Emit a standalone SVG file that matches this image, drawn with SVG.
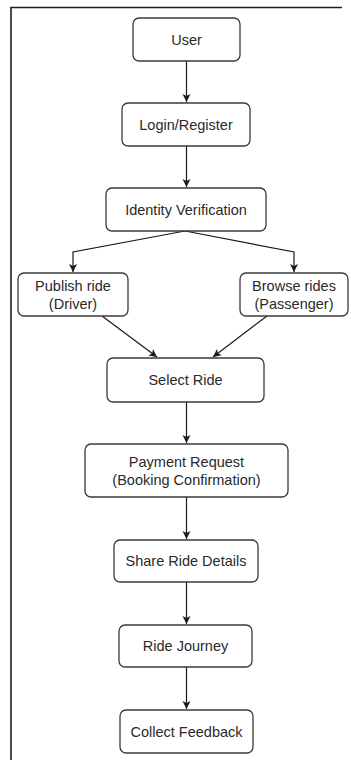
<svg xmlns="http://www.w3.org/2000/svg" width="351" height="760" viewBox="0 0 351 760">
<style>
.box{fill:#fff;stroke:#3a3a3a;stroke-width:1.3}
.t{font-family:"Liberation Sans",Arial,sans-serif;font-size:14.5px;fill:#2a2a2a;text-anchor:middle}
.c{fill:none;stroke:#1a1a1a;stroke-width:1.2}
</style>
<defs>
<marker id="ah" markerWidth="10" markerHeight="10" refX="9" refY="5" orient="auto" markerUnits="userSpaceOnUse">
<path d="M1,1 L9,5 L1,9 L3,5 Z" fill="#1a1a1a"/>
</marker>
</defs>
<rect width="351" height="760" fill="#fff"/>
<path d="M11,760 L11,7.5 L342,7.5" fill="none" stroke="#1e1e1e" stroke-width="1.6"/>
<g id="connectors">
<path class="c" d="M186.5,61 L186.5,102" marker-end="url(#ah)"/>
<path class="c" d="M186.5,146 L186.5,187" marker-end="url(#ah)"/>
<path class="c" d="M185,231 L73,252 L73,272" marker-end="url(#ah)"/>
<path class="c" d="M185,231 L294,252 L294,272" marker-end="url(#ah)"/>
<path class="c" d="M102,316 L157,357" marker-end="url(#ah)"/>
<path class="c" d="M267,316 L213,357" marker-end="url(#ah)"/>
<path class="c" d="M186.5,402 L186.5,443" marker-end="url(#ah)"/>
<path class="c" d="M186.5,497 L186.5,539" marker-end="url(#ah)"/>
<path class="c" d="M186.5,582 L186.5,624" marker-end="url(#ah)"/>
<path class="c" d="M186.5,667 L186.5,709" marker-end="url(#ah)"/>
</g>
<g id="user"><rect class="box" x="133" y="18" width="107" height="43" rx="6"/><text class="t" x="186.5" y="44.5">User</text></g>
<g id="login"><rect class="box" x="122" y="103" width="128" height="43" rx="6"/><text class="t" x="186" y="129.5">Login/Register</text></g>
<g id="identity"><rect class="box" x="106" y="188" width="160" height="43" rx="6"/><text class="t" x="186" y="214.5">Identity Verification</text></g>
<g id="publish"><rect class="box" x="18" y="273" width="110" height="43" rx="6"/><text class="t" x="73" y="291">Publish ride</text><text class="t" x="73" y="309">(Driver)</text></g>
<g id="browse"><rect class="box" x="240" y="273" width="108" height="43" rx="6"/><text class="t" x="294" y="291">Browse rides</text><text class="t" x="294" y="309">(Passenger)</text></g>
<g id="select"><rect class="box" x="107" y="358" width="157" height="44" rx="6"/><text class="t" x="185.5" y="385">Select Ride</text></g>
<g id="payment"><rect class="box" x="85" y="444" width="203" height="53" rx="6"/><text class="t" x="186.5" y="467">Payment Request</text><text class="t" x="186.5" y="485">(Booking Confirmation)</text></g>
<g id="share"><rect class="box" x="114" y="540" width="144" height="42" rx="6"/><text class="t" x="186" y="566">Share Ride Details</text></g>
<g id="journey"><rect class="box" x="119" y="625" width="133" height="42" rx="6"/><text class="t" x="185.5" y="651">Ride Journey</text></g>
<g id="feedback"><rect class="box" x="120" y="710" width="133" height="43" rx="6"/><text class="t" x="186.5" y="736.5">Collect Feedback</text></g>
</svg>
